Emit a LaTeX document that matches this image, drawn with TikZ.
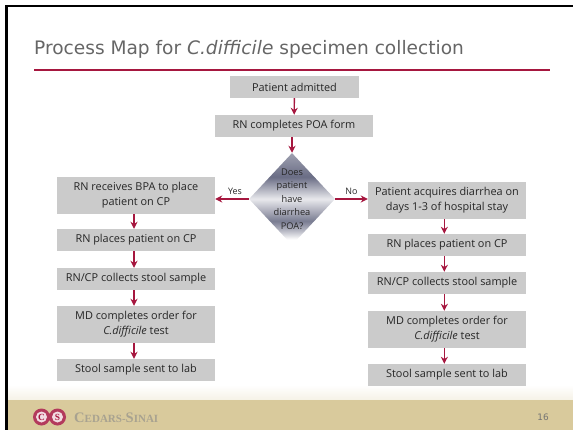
\documentclass[tikz,border=0pt]{standalone}
\usepackage{xcolor}
\usepackage{fontspec}
\setmainfont{Open Sans}
\newfontfamily\titlefont{DejaVu Sans}
\newfontfamily\logofont{Liberation Serif}
\usepackage{tikz}
\usetikzlibrary{shapes.geometric, arrows.meta}
\definecolor{crimson}{HTML}{A6173F}
\definecolor{boxgray}{HTML}{CBCBCB}
\definecolor{footer}{HTML}{D9CA9C}
\definecolor{slate}{HTML}{6A6D85}
\definecolor{brandgray}{HTML}{A8A290}
\pgfdeclareverticalshading{diamondshade}{100bp}{
	color(0bp)=(white);
	color(28bp)=(white);
	color(33bp)=(slate!50);
	color(38bp)=(slate!90);
	color(50bp)=(white!85!slate);
	color(62bp)=(slate);
	color(75bp)=(slate!65);
	color(100bp)=(slate!65)
}
\tikzset{
	flowbox/.style={fill=boxgray, minimum width=4.74cm, align=center, inner sep=0pt, font=\fontsize{9.3}{13}\selectfont, text=black!85},
	onebox/.style={flowbox, minimum height=0.66cm},
	twobox/.style={flowbox, minimum height=1.11cm},
	flow/.style={-{Stealth[length=2.1mm, width=2.1mm]}, crimson, line width=1.2pt},
	answer/.style={font=\fontsize{7.6}{9}\selectfont, text=black!85, inner sep=0pt}
}

\begin{document}
\begin{tikzpicture}[x=0.03cm, y=-0.03cm]
	\useasboundingbox (0,0) rectangle (573,430);
	% slide
	\shade[top color=white, bottom color=footer!25] (7.5,385) rectangle (573,400);
	\fill[footer] (7.5,400) rectangle (573,430);
	\fill[black] (5,5) rectangle (573,7.5);
	\fill[black] (5,5) rectangle (7.5,430);
	\node[anchor=base west, inner sep=0pt, text=black!60, font=\titlefont\fontsize{15.85}{18}\selectfont] (title) at (34,55) {Process Map for \textit{C.difficile} specimen collection};
	\coordinate (rulel) at (34,70);
	\coordinate (ruler) at (550,70);
	\draw[crimson, line width=0.9pt] (rulel) -- (ruler);

	% middle
	\node[onebox, minimum width=3.87cm] (admit) at (294.5,87) {Patient admitted};
	\node[onebox] (poa) at (294,126) {RN completes POA form};
	\node[diamond, shading=diamondshade, minimum width=2.58cm, minimum height=2.76cm, inner sep=0pt,
		label={[name=asktext, align=center, font=\fontsize{7.9}{11.5}\selectfont, text=black!85]center:Does\\patient\\have\\diarrhea\\POA?}] (ask) at (292,199) {};

	% left branch
	\node[twobox] (lbpa) at (136,195.5) {RN receives BPA to place\\patient on CP};
	\node[onebox] (lplace) at (136,240) {RN places patient on CP};
	\node[onebox] (lcollect) at (136,279) {RN/CP collects stool sample};
	\node[twobox] (lorder) at (136,324.5) {MD completes order for\\\textit{C.difficile} test};
	\node[onebox] (llab) at (136,370) {Stool sample sent to lab};

	% right branch
	\node[twobox] (racq) at (447,200.5) {Patient acquires diarrhea on\\days 1-3 of hospital stay};
	\node[onebox] (rplace) at (447,245) {RN places patient on CP};
	\node[onebox] (rcollect) at (447,283) {RN/CP collects stool sample};
	\node[twobox] (rorder) at (447,329.5) {MD completes order for\\\textit{C.difficile} test};
	\node[onebox] (rlab) at (447,375) {Stool sample sent to lab};

	% arrows
	\draw[flow] (admit) -- (poa);
	\draw[flow] ([xshift=-0.06cm]poa.south) -- (ask.north);
	\draw[flow] (ask.west) -- (lbpa.east |- ask.west) node[midway, above=0.1cm, xshift=0.09cm, answer] (yes) {Yes};
	\draw[flow] (ask.east) -- (racq.west |- ask.east) node[midway, above=0.1cm, answer] (no) {No};
	\foreach \a/\b in {lbpa/lplace, lplace/lcollect, lcollect/lorder, lorder/llab}
		\draw[flow] ([xshift=-0.06cm]\a.south) -- ([xshift=-0.06cm]\b.north);
	\foreach \a/\b in {racq/rplace, rplace/rcollect, rcollect/rorder, rorder/rlab}
		\draw[flow] ([xshift=-0.08cm]\a.south) -- ([xshift=-0.08cm]\b.north);

	% footer
	\fill[crimson!85] (41.5,417) circle (8.5) (57.5,417) circle (8.5);
	\fill[crimson!15] (41.5,417) circle (5.5) (57.5,417) circle (5.5);
	\node[text=crimson, font=\logofont\bfseries\fontsize{8}{8}\selectfont, inner sep=0pt] (logoc) at (41.5,417) {C};
	\node[text=crimson, font=\logofont\bfseries\fontsize{8}{8}\selectfont, inner sep=0pt] (logos) at (57.5,417) {S};
	\node[anchor=west, inner sep=0pt, text=brandgray, font=\logofont\bfseries\fontsize{9.4}{10}\selectfont] (brand) at (74,417.5) {{\fontsize{12.4}{10}\selectfont C}EDARS-{\fontsize{12.4}{10}\selectfont S}INAI};
	\node[anchor=east, inner sep=0pt, text=black!55, font=\titlefont\fontsize{7.6}{8}\selectfont] (page) at (549,417) {16};
\end{tikzpicture}
\end{document}
